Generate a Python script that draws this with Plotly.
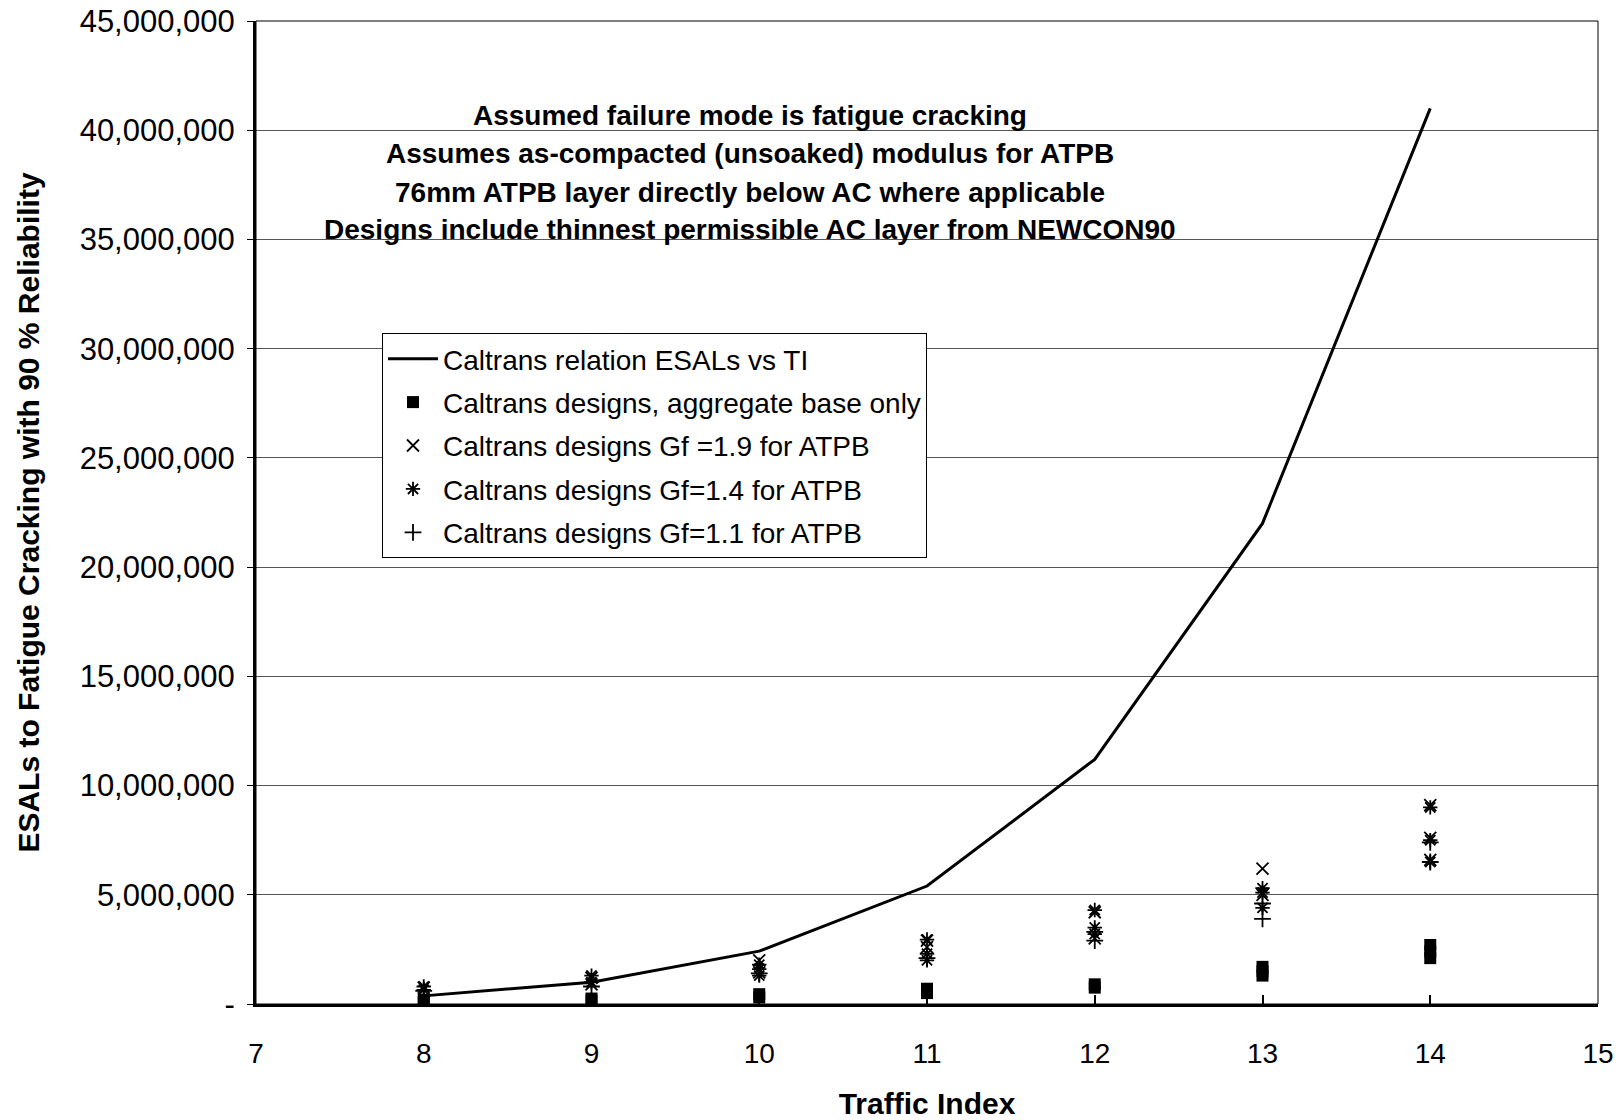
import plotly.graph_objects as go

# ---- data ----
ti_curve = [8, 9, 10, 11, 12, 13, 14]
esal_curve = [372000, 1000000, 2420000, 5400000, 11200000, 22000000, 41000000]

ab_x = [8, 8, 9, 9, 10, 10, 11, 11, 12, 12, 13, 13, 13, 14, 14, 14]
ab_y = [100000, 200000, 150000, 250000, 300000, 450000, 500000, 700000,
        750000, 900000, 1300000, 1500000, 1700000, 2100000, 2400000, 2700000]

gf19_x = [8, 9, 9, 10, 10, 11, 11, 12, 12, 13, 13, 14, 14, 14]
gf19_y = [750000, 1200000, 900000, 2000000, 1450000, 2900000, 2600000,
          4200000, 3000000, 6200000, 5000000, 9100000, 7600000, 6600000]

gf14_x = [8, 8, 9, 9, 10, 10, 10, 11, 11, 11, 12, 12, 12, 13, 13, 13, 14, 14, 14]
gf14_y = [800000, 650000, 1300000, 1000000, 1800000, 1600000, 1300000,
          2950000, 2300000, 2000000, 4300000, 3500000, 3200000,
          5300000, 5100000, 4400000, 9000000, 7500000, 6500000]

gf11_x = [8, 9, 10, 11, 12, 12, 13, 13, 14, 14]
gf11_y = [600000, 800000, 1400000, 2100000, 3300000, 2900000, 4600000, 3900000, 7400000, 6500000]

y_tickvals = [0, 5000000, 10000000, 15000000, 20000000, 25000000, 30000000,
              35000000, 40000000, 45000000]
y_ticktext = ["-", "5,000,000", "10,000,000", "15,000,000", "20,000,000", "25,000,000",
              "30,000,000", "35,000,000", "40,000,000", "45,000,000"]

notes = ["Assumed failure mode is fatigue cracking",
         "Assumes as-compacted (unsoaked) modulus for ATPB",
         "76mm ATPB layer directly below AC where applicable",
         "Designs include thinnest permissible AC layer from NEWCON90"]

FONT = "Liberation Sans, Arial, sans-serif"

fig = go.Figure()
fig.add_trace(go.Scatter(x=ti_curve, y=esal_curve, mode="lines",
                         name="Caltrans relation ESALs vs TI", legendgroup="a",
                         line=dict(color="black", width=3)))
fig.add_trace(go.Scatter(x=ab_x, y=ab_y, mode="markers",
                         name="Caltrans designs, aggregate base only", legendgroup="b",
                         marker=dict(symbol="square", size=12, color="black")))
fig.add_trace(go.Scatter(x=gf19_x, y=gf19_y, mode="markers",
                         name="Caltrans designs Gf =1.9 for ATPB", legendgroup="c",
                         marker=dict(symbol="x-thin-open", size=12, color="black",
                                     line=dict(width=1.8, color="black"))))
fig.add_trace(go.Scatter(x=gf14_x, y=gf14_y, mode="markers",
                         name="Caltrans designs Gf=1.4 for ATPB", legendgroup="d",
                         marker=dict(symbol="asterisk-open", size=12, color="black",
                                     line=dict(width=1.8, color="black"))))
fig.add_trace(go.Scatter(x=gf11_x, y=gf11_y, mode="markers",
                         name="Caltrans designs Gf=1.1 for ATPB", legendgroup="e",
                         marker=dict(symbol="cross-thin-open", size=12, color="black",
                                     line=dict(width=1.8, color="black"))))

note_y = [0.9034, 0.8647, 0.826, 0.7874]
for t, yy in zip(notes, note_y):
    fig.add_annotation(text="<b>%s</b>" % t, xref="paper", yref="paper",
                       x=0.368, y=yy, showarrow=False, xanchor="center", yanchor="middle",
                       font=dict(family=FONT, size=28, color="black"))

fig.add_shape(type="rect", xref="paper", yref="paper", x0=0, y0=0, x1=1, y1=1,
              line=dict(color="black", width=1), layer="above")

fig.update_layout(
    width=1621, height=1120,
    margin=dict(l=256, r=23, t=21, b=116, autoexpand=False),
    paper_bgcolor="white", plot_bgcolor="white",
    font=dict(family=FONT, size=28, color="black"),
    showlegend=True,
    legend=dict(x=0.0939, y=0.6826, xanchor="left", yanchor="top",
                bgcolor="white", bordercolor="black", borderwidth=1,
                font=dict(family=FONT, size=28, color="black"),
                traceorder="grouped", tracegroupgap=4, itemwidth=50),
    xaxis=dict(range=[7, 15], dtick=1, tick0=7, showgrid=False, zeroline=False,
               automargin=False, ticklabeloverflow="allow",
               showline=True, linecolor="black", linewidth=3,
               ticks="inside", ticklen=9, tickwidth=2, tickcolor="black",
               ticklabelstandoff=22,
               tickfont=dict(family=FONT, size=28),
               title=dict(text="<b>Traffic Index</b>", font=dict(family=FONT, size=30),
                          standoff=28)),
    yaxis=dict(range=[0, 45000000], tickvals=y_tickvals, ticktext=y_ticktext,
               automargin=False, ticklabeloverflow="allow",
               showgrid=True, gridcolor="#555555", gridwidth=1, zeroline=False,
               showline=True, linecolor="black", linewidth=3,
               ticks="outside", ticklen=6, tickwidth=1, tickcolor="black",
               ticklabelstandoff=6,
               tickfont=dict(family=FONT, size=31),
               title=dict(text="<b>ESALs to Fatigue Cracking with 90 % Reliability</b>",
                          font=dict(family=FONT, size=30), standoff=32)),
)

fig.write_html("out.html",
               config={"displayModeBar": False},
               post_script="document.body.style.margin='0';document.body.style.overflow='hidden';")
